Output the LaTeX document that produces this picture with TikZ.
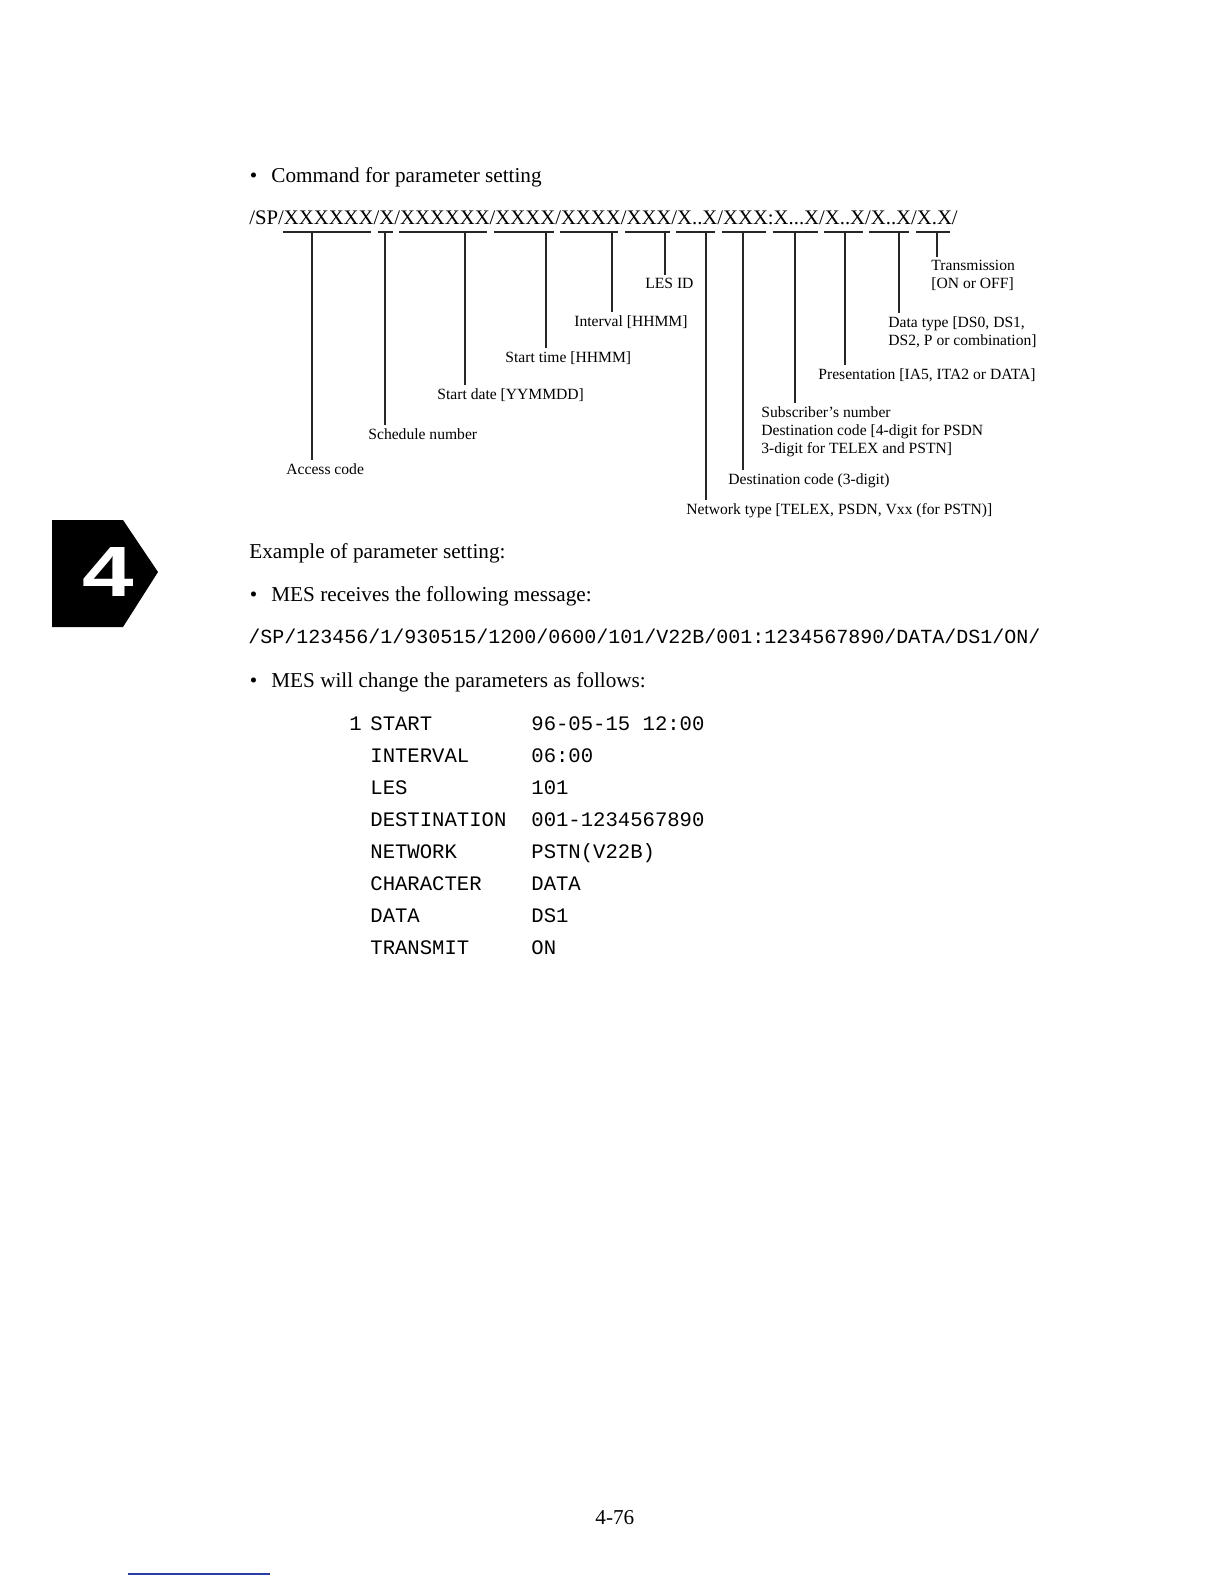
\documentclass[tikz,border=0pt]{standalone}
\usepackage{fontspec}
\setmainfont{Liberation Serif}
\setsansfont{Liberation Sans}
\setmonofont{Liberation Mono}
\definecolor{ScanBlue}{RGB}{40,60,170}

\begin{document}
\begin{tikzpicture}[
  x=0.5pt, y=-0.5pt,
  body/.style={font=\fontsize{10.6}{12}\selectfont,inner sep=0pt,anchor=base west},
  cmd/.style={font=\fontsize{10.35}{12}\selectfont,inner sep=0pt,anchor=base west},
  lbl/.style={font=\fontsize{7.8}{9}\selectfont,inner xsep=0pt,inner ysep=1.5pt,
    anchor=north west,align=left},
  mono/.style={font=\ttfamily\fontsize{10}{12}\selectfont,inner sep=0pt,anchor=base west},
  tbl/.style={font=\ttfamily\fontsize{10.3}{12}\selectfont,inner sep=0pt,anchor=base west},
  lead/.style={draw=black!85,line width=0.55pt}
]
\useasboundingbox[fill=white] (0,0) rectangle (1224,1584);

\fill[black] (52,520) -- (123,520) -- (158,572) -- (123,627) -- (52,627) -- cycle;
\node[text=white,font=\sffamily\bfseries\fontsize{35.6}{36}\selectfont,inner sep=0pt]
  (tab) at (108,572) {\scalebox{1.3}[1]{4}};

\node[body] (head) at (271,182) {\llap{\textbullet\hspace{7pt}}Command for parameter setting};
\node[cmd] (fmt) at (249,224) {/SP/XXXXXX/X/XXXXXX/XXXX/XXXX/XXX/X..X/XXX:X...X/X..X/X..X/X.X/};

\foreach \a/\b in {283/371,378/393,399/487,494/554,560/618,625/670,
                   676/715,722/766,773/818,824/863,869/909,916/950}
  \draw[lead] (\a,232) -- (\b,232);

\node[lbl] (acc)   at (286,460) {Access code};
\node[lbl] (sch)   at (368,425) {Schedule number};
\node[lbl] (sdate) at (437,385) {Start date [YYMMDD]};
\node[lbl] (stime) at (505,348) {Start time [HHMM]};
\node[lbl] (intv)  at (574,312) {Interval [HHMM]};
\node[lbl] (les)   at (645,275) {LES ID};
\node[lbl] (net)   at (686,500) {Network type [TELEX, PSDN, Vxx (for PSTN)]};
\node[lbl] (dest)  at (728,470) {Destination code (3-digit)};
\node[lbl] (sub)   at (761,403) {Subscriber's number\\Destination code [4-digit for PSDN\\3-digit for TELEX and PSTN]};
\node[lbl] (pres)  at (818,365) {Presentation [IA5, ITA2 or DATA]};
\node[lbl] (dtype) at (888,313) {Data type [DS0, DS1,\\DS2, P or combination]};
\node[lbl] (trans) at (931,257) {Transmission\\{}[ON or OFF]};

\foreach \t/\l in {312/acc,385/sch,465/sdate,546/stime,612/intv,665/les,
                   706/net,743/dest,795/sub,845/pres,899/dtype,937/trans}{
  \coordinate (t\l) at (\t,232);
  \draw[lead] (t\l) -- (t\l |- \l.north);
}

\node[body] (ex)   at (249,558) {Example of parameter setting:};
\node[body] (recv) at (271,601) {\llap{\textbullet\hspace{7pt}}MES receives the following message:};
\node[mono] (msg)  at (248,643) {/SP/123456/1/930515/1200/0600/101/V22B/001:1234567890/DATA/DS1/ON/};
\node[body] (chg)  at (271,687) {\llap{\textbullet\hspace{7pt}}MES will change the parameters as follows:};

\node[tbl] (num) at (349,730) {1};
\foreach \k/\v [count=\i from 0] in {START/96-05-15 12:00,INTERVAL/06:00,LES/101,
    DESTINATION/001-1234567890,NETWORK/PSTN(V22B),CHARACTER/DATA,DATA/DS1,TRANSMIT/ON}{
  \node[tbl] (key\i) at (370,730+32*\i) {\k};
  \node[tbl] (val\i) at (531,730+32*\i) {\v};
}

\node[body] (page) at (595,1524) {4-76};
\draw[ScanBlue,line width=0.7pt] (128,1574) -- (270,1574);
\end{tikzpicture}
\end{document}
